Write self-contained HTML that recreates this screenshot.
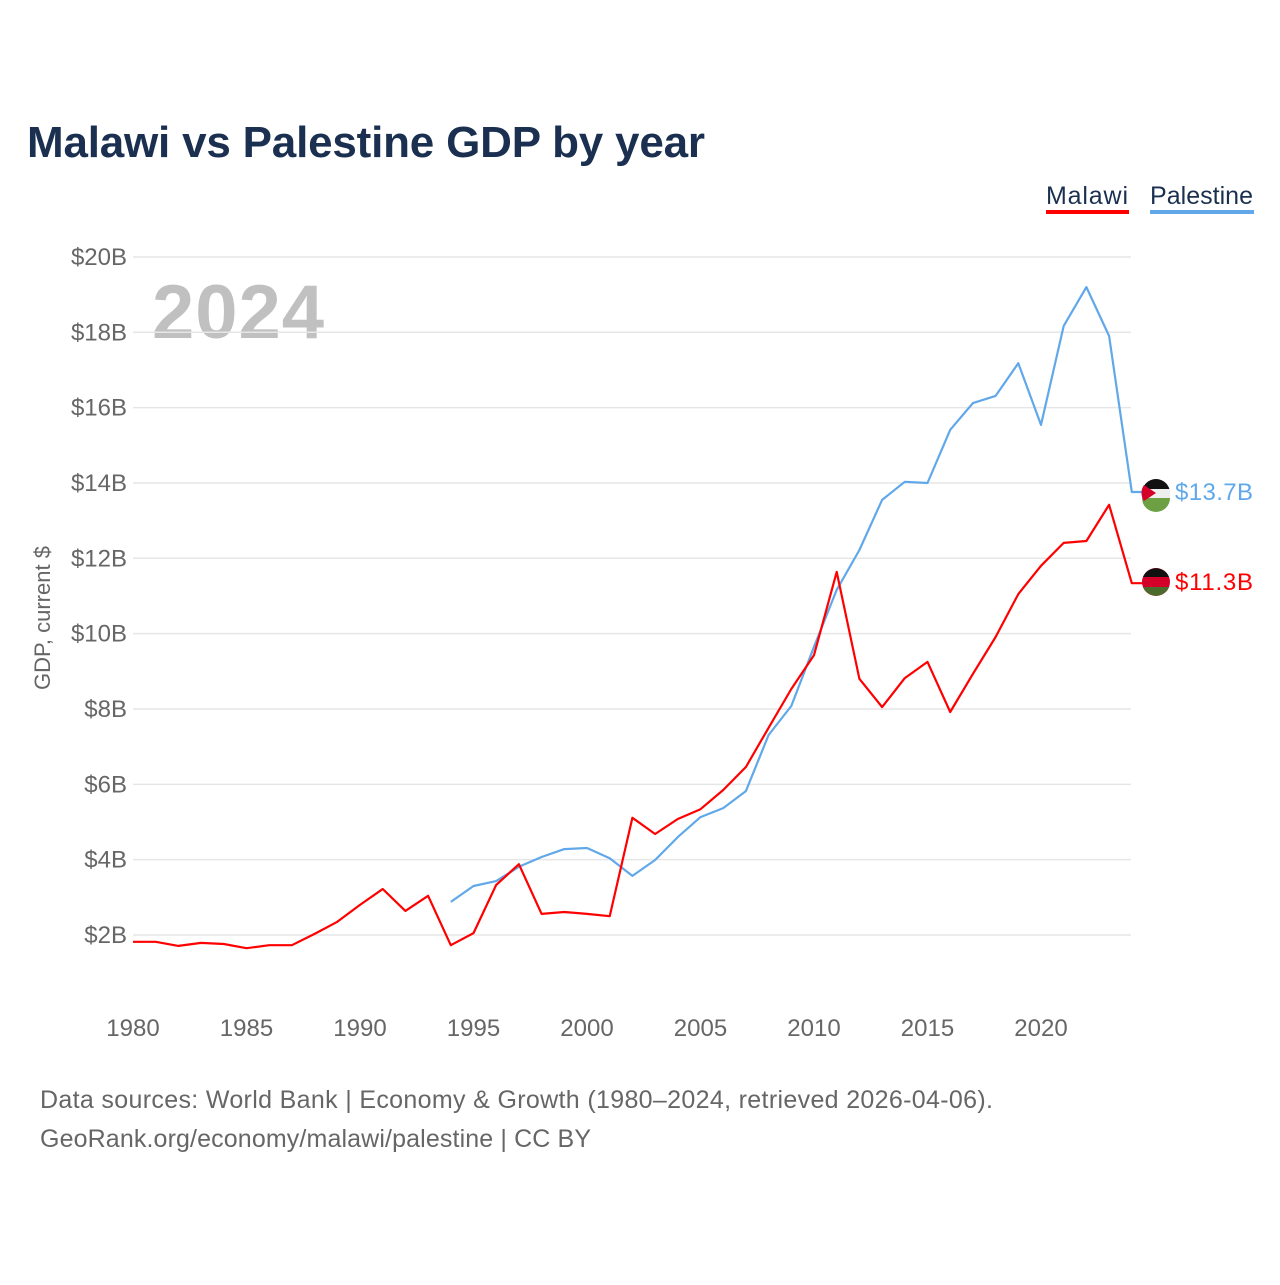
<!DOCTYPE html>
<html><head><meta charset="utf-8"><style>
body{margin:0;background:#fff;width:1280px;height:1280px;overflow:hidden;font-family:"Liberation Sans",sans-serif}
</style></head><body>
<svg id="chart" width="1280" height="1280" xmlns="http://www.w3.org/2000/svg">
<text x="27" y="157" font-size="44" font-weight="bold" fill="#1b3050" textLength="678">Malawi vs Palestine GDP by year</text>
<g>
<text x="1046" y="204" font-size="25" fill="#1b3050" textLength="82">Malawi</text>
<rect x="1046" y="210" width="83" height="4" fill="#ff0000"/>
<text x="1150" y="204" font-size="25" fill="#1b3050" textLength="103">Palestine</text>
<rect x="1150" y="210" width="104" height="4" fill="#60a8ea"/>
</g>
<text x="152" y="338" font-size="76" font-weight="bold" fill="#c0c0c0" textLength="172">2024</text>
<text transform="translate(50,618) rotate(-90)" text-anchor="middle" font-size="22" fill="#666">GDP, current $</text>
<g id="grid"></g><g id="yticks"></g><g id="xticks"></g><g id="series"></g>
<g>
<circle cx="1156" cy="493" r="14" fill="#eee"/>
<path d="M1142,493 a14,14 0 0 1 28,0 z" fill="#111"/>
<rect x="1142" y="489" width="28" height="9" fill="#eee"/>
<path d="M1142,498 h28 a14,14 0 0 1 -28,0z" fill="#6ca042"/>
<path d="M1144,485 L1156,493 L1144,501 A14,14 0 0 1 1144,485z" fill="#d4002a"/>
<text x="1175" y="500" font-size="24" fill="#60a8ea" textLength="78">$13.7B</text>
<circle cx="1156" cy="582" r="14" fill="#d4002a"/>
<path d="M1143,577 a14,14 0 0 1 26,0 z" fill="#111"/>
<path d="M1143,587 h26 a14,14 0 0 1 -26,0z" fill="#4b6b2d"/>
<text x="1175" y="590" font-size="24" fill="#ff0000" textLength="78">$11.3B</text>
</g>
<text x="40" y="1108" font-size="25" fill="#666" textLength="953">Data sources: World Bank | Economy &amp; Growth (1980–2024, retrieved 2026-04-06).</text>
<text x="40" y="1147" font-size="25" fill="#666" textLength="551">GeoRank.org/economy/malawi/palestine | CC BY</text>
</svg>
<script>
const malawiYears=[1980,1981,1982,1983,1984,1985,1986,1987,1988,1989,1990,1991,1992,1993,1994,1995,1996,1997,1998,1999,2000,2001,2002,2003,2004,2005,2006,2007,2008,2009,2010,2011,2012,2013,2014,2015,2016,2017,2018,2019,2020,2021,2022,2023,2024];
const malawiGdp=[1.82,1.82,1.71,1.79,1.76,1.65,1.73,1.73,2.03,2.35,2.80,3.22,2.64,3.04,1.73,2.05,3.33,3.88,2.56,2.61,2.56,2.50,5.11,4.68,5.08,5.34,5.85,6.46,7.50,8.53,9.43,11.64,8.80,8.05,8.82,9.25,7.92,8.93,9.91,11.05,11.80,12.41,12.46,13.42,11.34];
const palestineYears=[1994,1995,1996,1997,1998,1999,2000,2001,2002,2003,2004,2005,2006,2007,2008,2009,2010,2011,2012,2013,2014,2015,2016,2017,2018,2019,2020,2021,2022,2023,2024];
const palestineGdp=[2.88,3.30,3.43,3.81,4.07,4.28,4.31,4.04,3.57,3.99,4.60,5.13,5.37,5.82,7.31,8.08,9.65,11.16,12.22,13.55,14.03,14.00,15.41,16.12,16.31,17.18,15.54,18.17,19.20,17.90,13.76];
const yTickValues=[2,4,6,8,10,12,14,16,18,20];
const yTickLabels=["$2B","$4B","$6B","$8B","$10B","$12B","$14B","$16B","$18B","$20B"];
const xTickValues=[1980,1985,1990,1995,2000,2005,2010,2015,2020];
const NS="http://www.w3.org/2000/svg";
const xs=y=>133+(y-1980)*22.7;
const ys=v=>935-(v-2)*37.67;
function mk(tag,attrs,parent){const e=document.createElementNS(NS,tag);for(const k in attrs)e.setAttribute(k,attrs[k]);document.getElementById(parent).appendChild(e);return e;}
yTickValues.forEach((v,i)=>{
 const l=mk('line',{x1:133,x2:1131,y1:ys(v),y2:ys(v),stroke:'#e6e6e6','stroke-width':1.5},'grid');
 
 
 const t=mk('text',{x:127,y:ys(v)+8,'text-anchor':'end','font-size':24,fill:'#666'},'yticks');
 t.textContent=yTickLabels[i];
 
 
});
xTickValues.forEach(y=>{
 const t=mk('text',{x:xs(y),y:1036,'text-anchor':'middle','font-size':24,fill:'#666'},'xticks');
 t.textContent=y;
 
 
});
function line(years,vals,color,name){
 const d=years.map((y,i)=>(i?'L':'M')+xs(y).toFixed(1)+','+ys(vals[i]).toFixed(1)).join(' ')+' h11';
 const p=mk('path',{d:d,fill:'none',stroke:color,'stroke-width':2.2,'stroke-linejoin':'round'},'series');
 
 
}
line(palestineYears,palestineGdp,'#60a8ea','palestine-line');
line(malawiYears,malawiGdp,'#ff0000','malawi-line');
</script>
</body></html>
